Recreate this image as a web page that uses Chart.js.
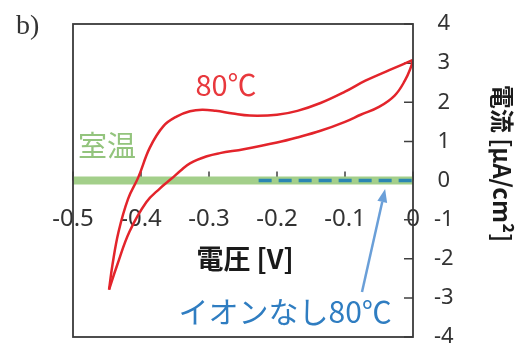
<!DOCTYPE html>
<html>
<head>
<meta charset="utf-8">
<script src="https://cdn.jsdelivr.net/npm/chart.js@4"></script>
<style>
html, body { margin:0; padding:0; background:#fff; }
#wrap { width:519px; height:345px; }
</style>
</head>
<body>
<div id="wrap"><canvas id="cv"></canvas></div>
<script>
// 80℃ loop, forward scan (tip -> 0 V)
var fwd_volt = [-0.447, -0.442, -0.433, -0.419, -0.404, -0.387, -0.367, -0.347, -0.328, -0.31, -0.29, -0.265, -0.24, -0.2, -0.17, -0.136, -0.1, -0.07, -0.035, 0]
var fwd_curr = [-2.79, -2.16, -1.31, -0.47, 0.08, 0.84, 1.39, 1.64, 1.77, 1.81, 1.78, 1.71, 1.66, 1.68, 1.78, 1.98, 2.27, 2.55, 2.82, 3.08]
// 80℃ loop, reverse scan (0 V -> tip)
var rev_volt = [0, -0.003, -0.012, -0.027, -0.05, -0.077, -0.1, -0.136, -0.17, -0.2, -0.249, -0.284, -0.303, -0.328, -0.342, -0.355, -0.372, -0.392, -0.417, -0.435, -0.447]
var rev_curr = [3.08, 2.9, 2.55, 2.17, 1.88, 1.68, 1.5, 1.27, 1.1, 0.97, 0.8, 0.7, 0.62, 0.44, 0.25, 0.05, -0.2, -0.55, -1.31, -2.16, -2.79]
// 室温
var rt_volt = [-0.5, 0]
var rt_curr = [0, 0]
// イオンなし80℃
var noion_volt = [-0.227, 0]
var noion_curr = [0, 0]

var x_ticks = [-0.5, -0.4, -0.3, -0.2, -0.1, 0]
var y_ticks = [-4, -3, -2, -1, 0, 1, 2, 3, 4]

function pts(xs, ys) {
    var out = []
    for (let i = 0; i < xs.length; i++) out.push({x: xs[i], y: ys[i]})
    return out
}

var jp = '"Noto Sans CJK JP", "Noto Sans", sans-serif'

var extras = {
    id: 'extras',
    beforeDatasetsDraw(chart) {
        var ctx = chart.ctx, xs = chart.scales.x, ys = chart.scales.y, a = chart.chartArea
        var y0 = ys.getPixelForValue(0)
        ctx.save()
        ctx.strokeStyle = '#404040'
        ctx.lineWidth = 1.5
        ctx.beginPath()
        xs.ticks.forEach(t => {
            var px = xs.getPixelForValue(t.value)
            ctx.moveTo(px, y0); ctx.lineTo(px, y0 - 9)
        })
        ys.ticks.forEach(t => {
            var py = ys.getPixelForValue(t.value)
            ctx.moveTo(a.right, py); ctx.lineTo(a.right - 9, py)
        })
        ctx.stroke()
        ctx.restore()
    },
    afterDraw(chart) {
        var ctx = chart.ctx, xs = chart.scales.x, ys = chart.scales.y, a = chart.chartArea
        var X = v => xs.getPixelForValue(v), Y = v => ys.getPixelForValue(v)
        ctx.save()
        ctx.textAlign = 'center'
        ctx.textBaseline = 'middle'

        ctx.fillStyle = '#e8383d'
        ctx.font = '29px ' + jp
        ctx.fillText('80℃', X(-0.275), Y(2.44))

        ctx.fillStyle = '#93c47d'
        ctx.font = '29px ' + jp
        ctx.fillText('室温', X(-0.45), Y(0.88))

        ctx.fillStyle = '#2f7dc1'
        ctx.font = '30px ' + jp
        ctx.fillText('イオンなし80℃', X(-0.188), Y(-3.34))

        ctx.fillStyle = '#1a1a1a'
        ctx.font = 'bold 27px ' + jp
        ctx.fillText('電圧 [V]', X(-0.247), Y(-2.0))

        // arrow
        var x1 = X(-0.075), y1 = Y(-2.85), x2 = X(-0.041), y2 = Y(-0.22)
        var ang = Math.atan2(y2 - y1, x2 - x1), hl = 13, hw = 5
        ctx.strokeStyle = '#6a9fd8'
        ctx.fillStyle = '#6a9fd8'
        ctx.lineWidth = 2.5
        ctx.beginPath()
        ctx.moveTo(x1, y1)
        ctx.lineTo(x2 - hl * Math.cos(ang), y2 - hl * Math.sin(ang))
        ctx.stroke()
        ctx.beginPath()
        ctx.moveTo(x2, y2)
        ctx.lineTo(x2 - hl * Math.cos(ang) + hw * Math.sin(ang), y2 - hl * Math.sin(ang) - hw * Math.cos(ang))
        ctx.lineTo(x2 - hl * Math.cos(ang) - hw * Math.sin(ang), y2 - hl * Math.sin(ang) + hw * Math.cos(ang))
        ctx.closePath()
        ctx.fill()

        // y title, rotated
        ctx.save()
        ctx.translate(502, (a.top + a.bottom) / 2 - 17)
        ctx.rotate(Math.PI / 2)
        ctx.fillStyle = '#1a1a1a'
        ctx.font = 'bold 24px ' + jp
        ctx.fillText('電流 [μA/cm²]', 0, 0)
        ctx.restore()

        // panel letter
        ctx.textAlign = 'left'
        ctx.textBaseline = 'alphabetic'
        ctx.fillStyle = '#333'
        ctx.font = '28px "Liberation Serif", serif'
        ctx.fillText('b)', 16, 34)

        // plot frame
        ctx.strokeStyle = '#3a3a3a'
        ctx.lineWidth = 1.8
        ctx.strokeRect(a.left, a.top, a.right - a.left, a.bottom - a.top)
        ctx.restore()
    }
}

var red = {showLine: true, borderColor: '#e3242b', borderWidth: 2.5, pointRadius: 0, tension: 0.4}

var ctx = document.getElementById('cv').getContext('2d');
var chart = new Chart(ctx, {
    type: 'scatter',
    data: {
        datasets: [
            Object.assign({data: pts(fwd_volt, fwd_curr)}, red),
            Object.assign({data: pts(rev_volt, rev_curr)}, red),
            {
                data: pts(noion_volt, noion_curr),
                showLine: true,
                borderColor: '#2b86b2',
                borderWidth: 3.5,
                borderDash: [13, 7],
                pointRadius: 0
            }, {
                data: pts(rt_volt, rt_curr),
                showLine: true,
                borderColor: '#a3cf8a',
                borderWidth: 8,
                pointRadius: 0
            }
        ],
    },
    options: {
        responsive: true,
        maintainAspectRatio: false,
        animation: false,
        events: [],
        layout: {padding: {left: 73, top: 24, bottom: 8, right: 0}},
        plugins: {legend: {display: false}, tooltip: {enabled: false}},
        scales: {
            x: {
                type: 'linear',
                min: -0.5, max: 0,
                position: {y: 0},
                afterBuildTicks: s => { s.ticks = x_ticks.map(v => ({value: v})) },
                grid: {display: false, drawTicks: false},
                border: {display: false},
                ticks: {
                    color: '#333',
                    font: {family: 'Noto Sans', size: 24},
                    padding: 24,
                    maxRotation: 0,
                    autoSkip: false,
                    callback: v => String(v)
                }
            },
            y: {
                type: 'linear',
                position: 'right',
                min: -4, max: 4,
                afterBuildTicks: s => { s.ticks = y_ticks.map(v => ({value: v})) },
                afterFit: s => { s.width = 106; s.paddingTop = 0; s.paddingBottom = 0 },
                grid: {display: false, drawTicks: false},
                border: {display: false},
                ticks: {
                    color: '#333',
                    font: {family: 'Noto Sans', size: 22},
                    padding: 21,
                    crossAlign: 'center',
                    autoSkip: false,
                    callback: v => String(v)
                }
            }
        }
    },
    plugins: [extras]
});
</script>
</body>
</html>
